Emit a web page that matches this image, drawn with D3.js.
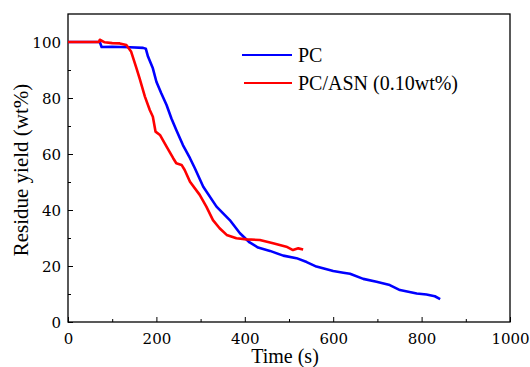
<!DOCTYPE html>
<html>
<head>
<meta charset="utf-8">
<script src="https://cdn.jsdelivr.net/npm/d3@7"></script>
<style>
  body { margin: 0; background: #fff; }
  text { font-family: "Liberation Serif", "DejaVu Serif", serif; }
</style>
</head>
<body>
<div id="chart"></div>
<script>
// PC curve (time s, residue wt%)
const pcTime = [0, 72, 76, 100, 140, 170, 176, 181, 192, 200, 211, 223, 234, 245, 260, 276, 287, 306, 336, 366, 389, 411, 430, 457, 487, 517, 540, 562, 600, 623, 638, 668, 698, 728, 751, 789, 811, 830, 842];
const pcYield = [100, 100, 98.2, 98.3, 98.1, 97.9, 97.6, 94.8, 90.6, 85.8, 81.7, 77.5, 72.7, 68.6, 63.2, 58.5, 54.9, 48.3, 41.2, 36.4, 31.7, 28.4, 26.6, 25.4, 23.7, 22.8, 21.4, 19.8, 18.2, 17.6, 17.2, 15.4, 14.4, 13.2, 11.4, 10.2, 9.8, 9.2, 8.2];

// PC/ASN (0.10wt%) curve
const asnTime = [0, 70, 72, 83, 100, 117, 132, 143, 155, 162, 174, 185, 192, 198, 208, 223, 238, 245, 257, 264, 276, 298, 313, 328, 343, 359, 381, 404, 434, 464, 494, 509, 521, 532];
const asnYield = [100, 100, 100.8, 99.9, 99.6, 99.5, 98.9, 96.5, 90.6, 87, 80.5, 75.7, 73.3, 68, 66.8, 62.6, 58.5, 56.7, 56.1, 54.3, 50.1, 45.4, 41.2, 36.4, 33.5, 31.1, 29.9, 29.5, 29.3, 28.1, 26.9, 25.7, 26.3, 25.9];

const seriesNames = ["PC", "PC/ASN (0.10wt%)"];
const seriesColors = ["#0000ff", "#ff0000"];
const xTicks = [0, 200, 400, 600, 800, 1000];
const yTicks = [0, 20, 40, 60, 80, 100];

const W = 530, H = 367;
const margin = { top: 14, right: 20, bottom: 45, left: 68 };
const width = W - margin.left - margin.right;
const height = H - margin.top - margin.bottom;
const tickFont = '"DejaVu Serif", serif';

const svg = d3.select("#chart").append("svg")
  .attr("width", W).attr("height", H);
const g = svg.append("g")
  .attr("transform", `translate(${margin.left},${margin.top})`);

const x = d3.scaleLinear().domain([0, 1000]).range([0, width]);
const y = d3.scaleLinear().domain([0, 110]).range([height, 0]);

// frame
g.append("rect")
  .attr("width", width).attr("height", height)
  .attr("fill", "none").attr("stroke", "#000").attr("stroke-width", 1.3);

// minor ticks
g.append("g").attr("transform", `translate(0,${height})`)
  .call(d3.axisBottom(x).tickValues(d3.range(100, 1000, 200)).tickSize(-3).tickFormat(""))
  .call(a => a.select(".domain").remove());
g.append("g")
  .call(d3.axisLeft(y).tickValues(d3.range(10, 110, 20)).tickSize(-3).tickFormat(""))
  .call(a => a.select(".domain").remove());

// major ticks
const xAxis = g.append("g").attr("transform", `translate(0,${height})`)
  .call(d3.axisBottom(x).tickValues(xTicks).tickSize(-5).tickFormat(d3.format("d")));
const yAxis = g.append("g")
  .call(d3.axisLeft(y).tickValues(yTicks).tickSize(-5).tickPadding(7).tickFormat(d3.format("d")));
[xAxis, yAxis].forEach(a => {
  a.select(".domain").remove();
  a.selectAll("text").attr("font-size", 15).attr("fill", "#000")
    .style("font-family", tickFont);
});
xAxis.selectAll("text").attr("y", 22).attr("dy", 0);
yAxis.selectAll("text").attr("x", -7).attr("dy", "0.36em");

// lines
const line = d3.line().x(d => x(d[0])).y(d => y(d[1]));
const pcData = d3.zip(pcTime, pcYield);
const asnData = d3.zip(asnTime, asnYield);
[pcData, asnData].forEach((d, i) => {
  g.append("path").datum(d)
    .attr("fill", "none")
    .attr("stroke", seriesColors[i])
    .attr("stroke-width", 2.6)
    .attr("stroke-linejoin", "round")
    .attr("d", line);
});

// legend
const legend = svg.append("g").attr("transform", "translate(242,55)");
seriesNames.forEach((name, i) => {
  const row = legend.append("g").attr("transform", `translate(0,${i * 28})`);
  row.append("line").attr("x1", i ? 2 : 0).attr("x2", 50)
    .attr("stroke", seriesColors[i]).attr("stroke-width", 2);
  row.append("text").attr("x", 56).attr("y", 7)
    .attr("font-size", 20).text(name);
});

// axis titles
svg.append("text")
  .attr("x", 285).attr("y", 363)
  .attr("text-anchor", "middle").attr("font-size", 20)
  .text("Time (s)");
svg.append("text")
  .attr("transform", `translate(28,170) rotate(-90)`)
  .attr("text-anchor", "middle").attr("font-size", 21)
  .text("Residue yield (wt%)");
</script>
</body>
</html>
